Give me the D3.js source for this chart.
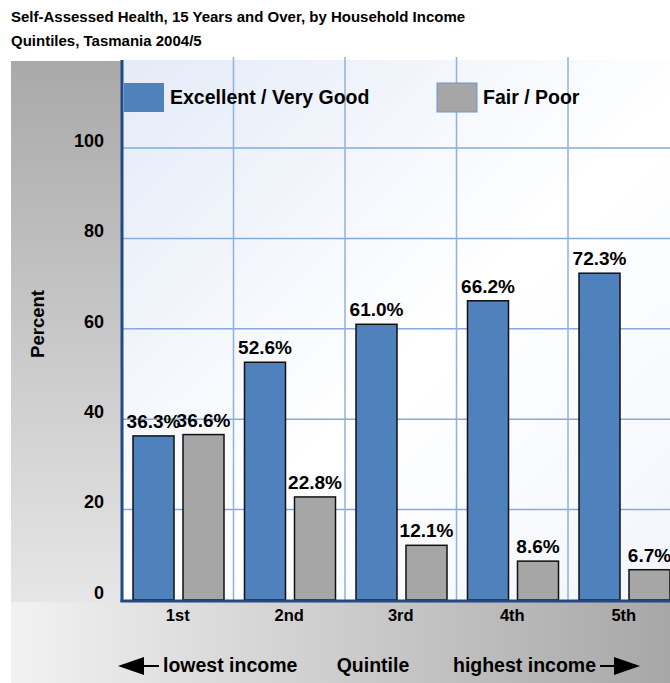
<!DOCTYPE html>
<html>
<head>
<meta charset="utf-8">
<script src="https://cdn.jsdelivr.net/npm/d3@7"></script>
<style>
  body { margin: 0; background: #fff; }
  svg text { font-family: Arial, "Liberation Sans", sans-serif; font-weight: bold; fill: #000; }
</style>
</head>
<body>
<svg id="chart"></svg>
<script>
var categories = ["1st", "2nd", "3rd", "4th", "5th"]
var seriesNames = ["Excellent / Very Good", "Fair / Poor"]
var excellent = [36.3, 52.6, 61.0, 66.2, 72.3]
var fair = [36.6, 22.8, 12.1, 8.6, 6.7]
var yTicks = [0, 20, 40, 60, 80, 100]

var screen = {width: 670, height: 683}
var plot = {left: 122, top: 60, bottom: 600, band: 111.5}

var svg = d3.select("#chart")
    .attr("width", screen.width)
    .attr("height", screen.height)

var defs = svg.append("defs")

// gradients for the panels
var g1 = defs.append("linearGradient").attr("id", "leftGrad")
    .attr("x1", 0).attr("y1", 0).attr("x2", 0).attr("y2", 1)
g1.append("stop").attr("offset", "0%").attr("stop-color", "#a9a9a9")
g1.append("stop").attr("offset", "100%").attr("stop-color", "#e6e6e6")

var g2 = defs.append("linearGradient").attr("id", "bottomGrad")
    .attr("x1", 0).attr("y1", 0).attr("x2", 1).attr("y2", 0)
g2.append("stop").attr("offset", "0%").attr("stop-color", "#f2f2f2")
g2.append("stop").attr("offset", "100%").attr("stop-color", "#a7a7a7")

var g3 = defs.append("linearGradient").attr("id", "plotGrad")
    .attr("x1", 0).attr("y1", 0).attr("x2", 1).attr("y2", 1)
g3.append("stop").attr("offset", "0%").attr("stop-color", "#e3ebf7")
g3.append("stop").attr("offset", "55%").attr("stop-color", "#ffffff")
g3.append("stop").attr("offset", "100%").attr("stop-color", "#f1f5fb")

svg.append("rect").attr("x", 11).attr("y", plot.top + 1)
    .attr("width", plot.left - 11).attr("height", plot.bottom + 2 - plot.top - 1)
    .attr("fill", "url(#leftGrad)")
svg.append("rect").attr("x", 11).attr("y", plot.bottom + 2)
    .attr("width", screen.width - 11).attr("height", screen.height - plot.bottom - 2)
    .attr("fill", "url(#bottomGrad)")
svg.append("rect").attr("x", plot.left).attr("y", plot.top)
    .attr("width", screen.width - plot.left).attr("height", plot.bottom - plot.top)
    .attr("fill", "url(#plotGrad)")

var xScale = d3.scaleBand()
    .domain(categories)
    .range([plot.left, plot.left + plot.band * categories.length])
var inner = d3.scaleBand()
    .domain([0, 1])
    .range([11, 102])
    .paddingInner(0.18)
var yScale = d3.scaleLinear()
    .domain([0, 100])
    .range([plot.bottom, 148])

// grid
svg.append("g").selectAll("line.h")
    .data(yTicks.filter(function(d){ return d > 0 }))
    .enter().append("line")
    .attr("x1", plot.left).attr("x2", screen.width)
    .attr("y1", function(d){ return yScale(d) })
    .attr("y2", function(d){ return yScale(d) })
    .attr("stroke", "#86aadc").attr("stroke-width", 1.5)

svg.append("g").selectAll("line.v")
    .data(categories.slice(1))
    .enter().append("line")
    .attr("x1", function(d){ return xScale(d) })
    .attr("x2", function(d){ return xScale(d) })
    .attr("y1", plot.top - 3).attr("y2", plot.bottom)
    .attr("stroke", "#8fb1df").attr("stroke-width", 1.5)

// y tick labels
svg.append("g").selectAll("text")
    .data(yTicks)
    .enter().append("text")
    .attr("x", 104)
    .attr("y", function(d){ return yScale(d) - 6 })
    .attr("text-anchor", "end")
    .attr("dominant-baseline", "middle")
    .style("font-size", "18px")
    .text(function(d){ return d })

svg.append("text")
    .attr("transform", "translate(44,324) rotate(-90)")
    .attr("text-anchor", "middle")
    .style("font-size", "18.5px")
    .text("Percent")

// bars
var colors = ["#4f81bd", "#a6a6a6"]
var groups = svg.append("g").selectAll("g")
    .data(categories)
    .enter().append("g")
    .attr("transform", function(d){ return "translate(" + xScale(d) + ",0)" })

groups.selectAll("rect")
    .data(function(d, i){ return [excellent[i], fair[i]] })
    .enter().append("rect")
    .attr("x", function(v, j){ return inner(j) })
    .attr("width", inner.bandwidth())
    .attr("y", function(v){ return yScale(v) })
    .attr("height", function(v){ return plot.bottom - yScale(v) })
    .attr("fill", function(v, j){ return colors[j] })
    .attr("stroke", "#111")
    .attr("stroke-width", 1.5)

groups.selectAll("text")
    .data(function(d, i){ return [excellent[i], fair[i]] })
    .enter().append("text")
    .attr("x", function(v, j){ return inner(j) + inner.bandwidth() / 2 })
    .attr("y", function(v){ return yScale(v) - 8 })
    .attr("text-anchor", "middle")
    .style("font-size", "19px")
    .text(function(v){ return v.toFixed(1) + "%" })

// axes lines
svg.append("line")
    .attr("x1", plot.left).attr("x2", plot.left)
    .attr("y1", plot.top).attr("y2", plot.bottom + 2)
    .attr("stroke", "#1f4a86").attr("stroke-width", 3)
svg.append("line")
    .attr("x1", plot.left - 1.5).attr("x2", screen.width)
    .attr("y1", plot.bottom + 1).attr("y2", plot.bottom + 1)
    .attr("stroke", "#1f4a86").attr("stroke-width", 3)

// category labels
svg.append("g").selectAll("text")
    .data(categories)
    .enter().append("text")
    .attr("x", function(d){ return xScale(d) + xScale.bandwidth() / 2 })
    .attr("y", 621)
    .attr("text-anchor", "middle")
    .style("font-size", "16.5px")
    .text(function(d){ return d })

// legend
var legendX = [124, 437]
var leg = svg.append("g").selectAll("g")
    .data(seriesNames)
    .enter().append("g")
    .attr("transform", function(d, i){ return "translate(" + legendX[i] + ",83)" })
leg.append("rect")
    .attr("width", 40).attr("height", 29)
    .attr("fill", function(d, i){ return colors[i] })
    .attr("stroke", function(d, i){ return i == 1 ? "#6f96cc" : "none" })
leg.append("text")
    .attr("x", 46).attr("y", 21)
    .style("font-size", "19.5px")
    .text(function(d){ return d })

// title
svg.append("text").attr("x", 11).attr("y", 22).style("font-size", "15px")
    .text("Self-Assessed Health, 15 Years and Over, by Household Income")
svg.append("text").attr("x", 11).attr("y", 46).style("font-size", "15px")
    .text("Quintiles, Tasmania 2004/5")

// bottom caption with arrows
var capY = 672
svg.append("text").attr("x", 163).attr("y", capY)
    .style("font-size", "19.5px").text("lowest income")
svg.append("text").attr("x", 373).attr("y", capY)
    .attr("text-anchor", "middle").style("font-size", "19.5px").text("Quintile")
svg.append("text").attr("x", 596).attr("y", capY)
    .attr("text-anchor", "end").style("font-size", "19.5px").text("highest income")

var arrowY = 666
svg.append("line").attr("x1", 140).attr("x2", 159).attr("y1", arrowY).attr("y2", arrowY)
    .attr("stroke", "#000").attr("stroke-width", 2)
svg.append("path").attr("d", "M118," + arrowY + " L144," + (arrowY - 9) + " L144," + (arrowY + 9) + " Z")
    .attr("fill", "#000")
svg.append("line").attr("x1", 600).attr("x2", 620).attr("y1", arrowY).attr("y2", arrowY)
    .attr("stroke", "#000").attr("stroke-width", 2)
svg.append("path").attr("d", "M640," + arrowY + " L614," + (arrowY - 9) + " L614," + (arrowY + 9) + " Z")
    .attr("fill", "#000")
</script>
</body>
</html>
